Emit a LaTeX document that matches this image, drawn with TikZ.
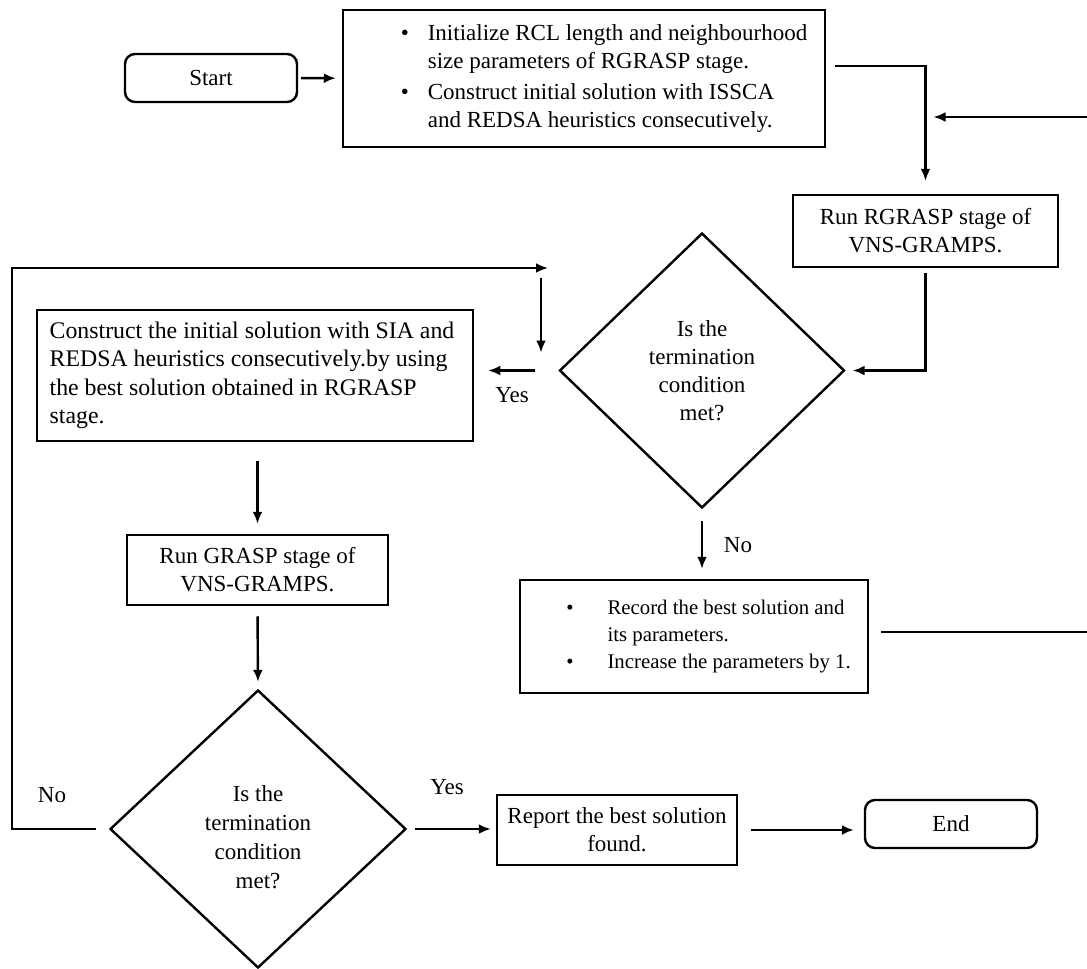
\documentclass[tikz,border=0pt]{standalone}
\usepackage{fontspec}
\setmainfont{Liberation Serif}
\usetikzlibrary{shapes.geometric,arrows.meta,calc}
\begin{document}
\begin{tikzpicture}[x=0.5pt,y=-0.5pt,
  font=\fontsize{11.5}{14}\selectfont,
  box/.style={draw,line width=1.25pt,rectangle,inner sep=0pt,align=center},
  term/.style={draw,line width=1.2pt,rounded corners=5pt,inner sep=0pt,minimum width=86pt,minimum height=24pt},
  decision/.style={draw,line width=1.2pt,diamond,inner sep=0pt,align=center},
  conn/.style={line width=1.2pt},
  arr/.style={conn,-{Latex[length=6pt,width=5pt]}},
  lbl/.style={inner sep=0pt}
]
\useasboundingbox (0,0) rectangle (1087,969);

% nodes
\node[term] (start) at (211,78) {Start};
\node[box,minimum width=241pt,minimum height=68.5pt] (init) at (584,78.5)
  {\hspace*{20pt}\begin{tabular}{@{}l@{\hspace{9.5pt}}l@{}}
   \textbullet & Initialize RCL length and neighbourhood\\
               & size parameters of RGRASP stage.\\[1.5pt]
   \textbullet & Construct initial solution with ISSCA\\
               & and REDSA heuristics consecutively.
   \end{tabular}};
\node[box,minimum width=132.5pt,minimum height=36pt] (rgrasp) at (925.5,231)
  {Run RGRASP stage of\\VNS-GRAMPS.};
\node[decision,minimum width=142.5pt,minimum height=137.5pt] (d1) at (702,370.5)
  {Is the\\termination\\condition\\met?};
\node[box,minimum width=218pt,minimum height=65.5pt] (construct) at (255,375.5)
  {\fontsize{11.9}{14.2}\selectfont\hspace*{-3pt}\begin{tabular}{@{}l@{}}
   Construct the initial solution with SIA and\\
   REDSA heuristics consecutively.by using\\
   the best solution obtained in RGRASP\\
   stage.
   \end{tabular}};
\node[box,minimum width=130.5pt,minimum height=35pt] (grasp) at (257.5,570)
  {Run GRASP stage of\\VNS-GRAMPS.};
\node[decision,minimum width=148pt,minimum height=139pt,font=\fontsize{11.5}{14.4}\selectfont] (d2) at (258,829)
  {\rule{0pt}{16pt}Is the\\termination\\condition\\met?};
\node[box,minimum width=174pt,minimum height=56.5pt] (record) at (694,636.5)
  {\fontsize{10.4}{13.5}\selectfont\hspace*{14.5pt}\begin{tabular}{@{}l@{\hspace{17pt}}l@{}}
   \textbullet & Record the best solution and\\
               & its parameters.\\
   \textbullet & Increase the parameters by 1.
   \end{tabular}};
\node[box,minimum width=120pt,minimum height=35pt] (report) at (617,830)
  {Report the best solution\\found.};
\node[term] (end) at (951,824) {End};

% labels
\node[lbl] (yes1) at (512,395) {Yes};
\node[lbl] (no1) at (738,545) {No};
\node[lbl] (yes2) at (447,787) {Yes};
\node[lbl] (no2) at (52,795) {No};

% helper coordinates
\coordinate (loopTL) at (12,268);
\coordinate (loopTR) at (548,268);
\coordinate (vtop) at (541,278);
\coordinate (fbin) at (1087,117);
\coordinate (fbout) at (1087,632);

% connectors
\draw[arr,shorten <=1.5pt,shorten >=3pt] (start) -- (init);
\draw[arr,shorten >=6.5pt] ([xshift=4.5pt,yshift=6.25pt]init.east) -| (rgrasp.north);
\draw[arr] (fbin) -- ([xshift=4pt]fbin -| rgrasp.north);
\draw[arr,shorten <=2.5pt,shorten >=3.5pt] (rgrasp.south) |- (d1.east);
\draw[arr,shorten <=11.5pt,shorten >=7pt] (d1.west) -- (d1.west -| construct.east);
\draw[arr,shorten <=6pt,shorten >=5pt] (d1.south) -- (d1.south |- record.north);
\draw[conn] ([xshift=6pt,yshift=2.25pt]record.east) -- (fbout);
\draw[arr,shorten <=9.5pt,shorten >=5pt] (construct.south -| grasp.north) -- (grasp.north);
\draw[arr,shorten <=5pt,shorten >=3.5pt] (grasp.south) -- (d2.north);
\draw[arr,shorten <=4pt,shorten >=2.5pt] (d2.east) -- (d2.east -| report.west);
\draw[arr,shorten <=6.5pt,shorten >=5pt] (report.east) -- (report.east -| end.west);
\draw[arr] ([xshift=-6.5pt]d2.west) -| (loopTL) -- (loopTR);
\draw[arr,shorten >=9pt] (vtop) -- (vtop |- d1.west);
\end{tikzpicture}
\end{document}
